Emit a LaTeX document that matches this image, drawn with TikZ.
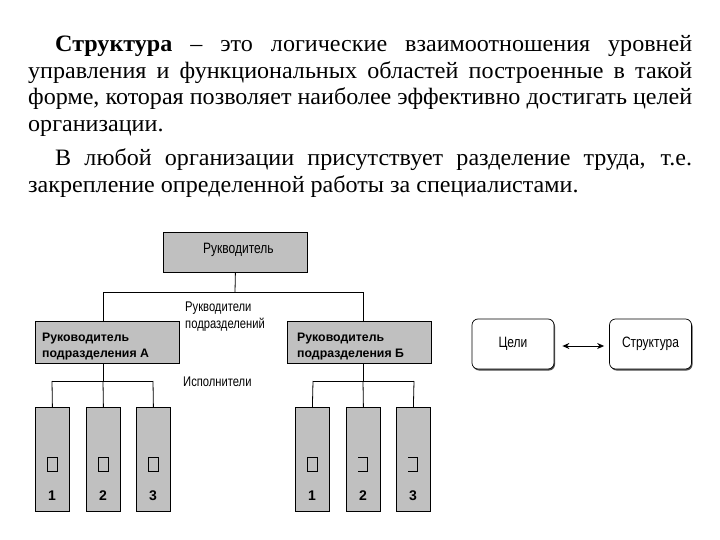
\documentclass[tikz,border=0pt]{standalone}
\usepackage{fontspec}
\setmainfont[FakeStretch=1.025]{Liberation Serif}
\newfontfamily\diagfont{Liberation Sans}
\newfontfamily\narrowfont[FakeStretch=0.8]{Liberation Sans}
\usetikzlibrary{arrows.meta,shadows}
\definecolor{boxgray}{RGB}{192,192,192}
\begin{document}
\begin{tikzpicture}[x=1pt,y=-1pt,
  txt/.style={anchor=base west, inner sep=0pt, font=\fontsize{23.5}{26}\selectfont},
  gbox/.style={draw, fill=boxgray, line width=0.8pt, anchor=north west, inner sep=0pt},
  exec/.style={gbox, minimum width=34pt, minimum height=104pt},
  mgr/.style={gbox, minimum width=144pt, minimum height=42pt},
  btxt/.style={anchor=base west, inner sep=0pt, align=left, font=\diagfont\bfseries\fontsize{12.3}{16}\selectfont},
  ntxt/.style={anchor=base west, inner sep=0pt, align=left, font=\narrowfont\fontsize{14}{17}\selectfont},
  num/.style={anchor=base, inner sep=0pt, font=\diagfont\bfseries\fontsize{14}{14}\selectfont},
  sq/.style={draw, line width=0.6pt, minimum width=10pt, minimum height=14pt, inner sep=0pt},
  rbox/.style={draw, rounded corners=6pt, fill=white, line width=0.7pt, minimum width=82pt, minimum height=50pt, inner sep=0pt,
    drop shadow={shadow xshift=1pt, shadow yshift=-1.5pt, fill=black!70, opacity=1}},
  conn/.style={line width=0.8pt}
]
\useasboundingbox (0,0) rectangle (720,540);
\fill[white] (0,0) rectangle (720,540);

% paragraph text
\node[txt] (l1) at (55,52) {\makebox[637pt][s]{\textbf{Структура} – это логические взаимоотношения уровней}};
\node[txt] (l2) at (28,78.5) {\makebox[664pt][s]{управления и функциональных областей построенные в такой}};
\node[txt] (l3) at (28,105) {\makebox[664pt][s]{форме, которая позволяет наиболее эффективно достигать целей}};
\node[txt] (l4) at (28,131.5) {организации.};
\node[txt] (l5) at (55,166) {\makebox[637pt][s]{В любой организации присутствует разделение труда, т.е.}};
\node[txt] (l6) at (28,192.5) {закрепление определенной работы за специалистами.};

% top manager
\node[gbox, minimum width=144pt, minimum height=40pt] (top) at (163,232) {};
\node[ntxt, font=\narrowfont\fontsize{15}{17}\selectfont] (toptxt) at (203,253) {Рукводитель};

% department heads
\node[mgr] (A) at (35,321) {};
\node[mgr] (B) at (287,321) {};
\node[btxt] (Atxt) at (42,357) {Руководитель\\подразделения А};
\node[btxt] (Btxt) at (297,357) {Руководитель\\подразделения Б};

% labels
\node[ntxt] (lab1) at (185,328) {Рукводители\\подразделений};
\node[ntxt] (lab2) at (183,386) {Исполнители};

% connectors top -> heads
\coordinate (hub) at (235,292);
\coordinate (hA) at (103,292);
\coordinate (hB) at (363,292);
\draw[conn] (top.south) -- (hub);
\draw[conn] (hA) -- (hB);
\draw[conn] (hA) -- (hA |- A.north);
\draw[conn] (hB) -- (hB |- B.north);

% executors A
\node[exec] (a1) at (35,407) {};
\node[exec] (a2) at (86,407) {};
\node[exec] (a3) at (136,407) {};
% executors B
\node[exec] (b1) at (295,407) {};
\node[exec] (b2) at (346,407) {};
\node[exec] (b3) at (396,407) {};

% connectors heads -> executors
\coordinate (jA) at (103,381);
\coordinate (jA1) at (52,381);
\coordinate (jA3) at (153,381);
\draw[conn] (jA |- A.south) -- (jA);
\draw[conn] (jA1) -- (jA3);
\draw[conn] (jA1) -- (a1.north);
\draw[conn] (jA) -- (a2.north);
\draw[conn] (jA3) -- (a3.north);
\coordinate (jB) at (363,381);
\coordinate (jB1) at (313,381);
\coordinate (jB3) at (414,381);
\draw[conn] (jB |- B.south) -- (jB);
\draw[conn] (jB1) -- (jB3);
\draw[conn] (jB1) -- (b1.north);
\draw[conn] (jB) -- (b2.north);
\draw[conn] (jB3) -- (b3.north);

% small squares
\node[sq] (sa1) at (52,464) {};
\node[sq] (sa2) at (103,464) {};
\node[sq] (sa3) at (153,464) {};
\node[sq] (sb1) at (312,464) {};
\coordinate (sb2) at (363,464);
\coordinate (sb3) at (413,464);
\draw[line width=0.6pt] ([shift={(-5,-7)}]sb2) -- ([shift={(4,-7)}]sb2) -- ([shift={(4,7)}]sb2) -- ([shift={(-5,7)}]sb2);
\draw[line width=0.6pt] ([shift={(-5,-7)}]sb3) -- ([shift={(4,-7)}]sb3) -- ([shift={(4,7)}]sb3) -- ([shift={(-5,7)}]sb3);

% numbers
\node[num] (na1) at (52,500) {1};
\node[num] (na2) at (103,500) {2};
\node[num] (na3) at (153,500) {3};
\node[num] (nb1) at (312,500) {1};
\node[num] (nb2) at (363,500) {2};
\node[num] (nb3) at (413,500) {3};

% goals <-> structure
\node[rbox, font=\narrowfont\fontsize{15}{17}\selectfont] (goal) at (513,344) {Цели};
\node[rbox, font=\narrowfont\fontsize{15}{17}\selectfont] (struct) at (650.5,344) {Структура};
\draw[line width=0.9pt, {Stealth[length=7pt,width=6pt]}-{Stealth[length=7pt,width=6pt]}] ([xshift=8pt,yshift=-2pt]goal.east) -- ([xshift=-5pt,yshift=-2pt]struct.west);
\end{tikzpicture}
\end{document}
